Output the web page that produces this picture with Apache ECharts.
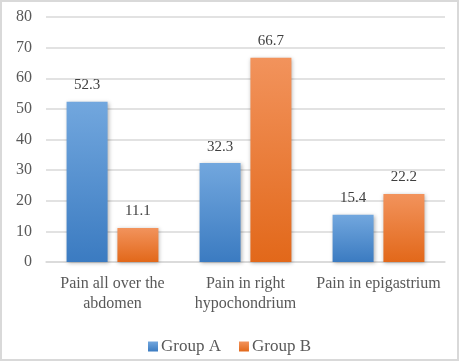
<!DOCTYPE html>
<html><head><meta charset="utf-8">
<script src="https://cdn.jsdelivr.net/npm/echarts@6/dist/echarts.min.js"></script>
<style>html,body{margin:0;padding:0;background:#fff}#c{width:459px;height:361px}</style>
</head><body><div id="c"></div>
<script>
var categories = ['Pain all over the\nabdomen', 'Pain in right\nhypochondrium', 'Pain in epigastrium'];
var groupA = [52.3, 32.3, 15.4];
var groupB = [11.1, 66.7, 22.2];
var seriesNames = ['Group A', 'Group B'];
var yTicks = {min: 0, max: 80, interval: 10};

var font = '"Liberation Serif", "Times New Roman", serif';
function grad(top, bottom) {
  return new echarts.graphic.LinearGradient(0, 0, 0, 1, [{offset: 0, color: top}, {offset: 1, color: bottom}]);
}
var chart = echarts.init(document.getElementById('c'), null, {renderer: 'canvas'});
var barStyle = function (top, bottom) {
  return {color: grad(top, bottom), shadowBlur: 4, shadowColor: 'rgba(0,0,0,0.3)', shadowOffsetX: 1, shadowOffsetY: 1};
};
var lbl = {show: true, position: 'top', distance: 9, color: '#404040', fontFamily: font, fontSize: 15};
chart.setOption({
  animation: false,
  backgroundColor: '#fff',
  textStyle: {fontFamily: font},
  graphic: [{type: 'rect', shape: {x: 1, y: 1, width: 457, height: 359}, style: {fill: 'none', stroke: '#d9d9d9', lineWidth: 2}, z: 100}],
  grid: {left: 46, right: 14, top: 17, bottom: 99},
  legend: {
    top: 333, left: 'center', itemWidth: 10, itemHeight: 10, itemGap: 18,
    icon: 'rect',
    textStyle: {fontFamily: font, fontSize: 17, color: '#595959', padding: [0, 0, 0, -2]},
    data: seriesNames
  },
  xAxis: {
    type: 'category', data: categories,
    axisLine: {lineStyle: {color: '#d9d9d9', width: 1.5}},
    axisTick: {show: false},
    axisLabel: {fontFamily: font, fontSize: 16, color: '#595959', margin: 12, lineHeight: 20, interval: 0}
  },
  yAxis: {
    type: 'value', min: yTicks.min, max: yTicks.max, interval: yTicks.interval,
    axisLine: {show: false}, axisTick: {show: false},
    axisLabel: {fontFamily: font, fontSize: 16, color: '#595959', margin: 14},
    splitLine: {lineStyle: {color: '#d9d9d9', width: 1.5}}
  },
  series: [
    {name: seriesNames[0], type: 'bar', data: groupA, barWidth: 41, barGap: '24%',
     itemStyle: barStyle('#72a7de', '#3b7bc1'), label: lbl},
    {name: seriesNames[1], type: 'bar', data: groupB, barWidth: 41,
     itemStyle: barStyle('#f2935c', '#e2681a'), label: lbl}
  ]
});
</script></body></html>
